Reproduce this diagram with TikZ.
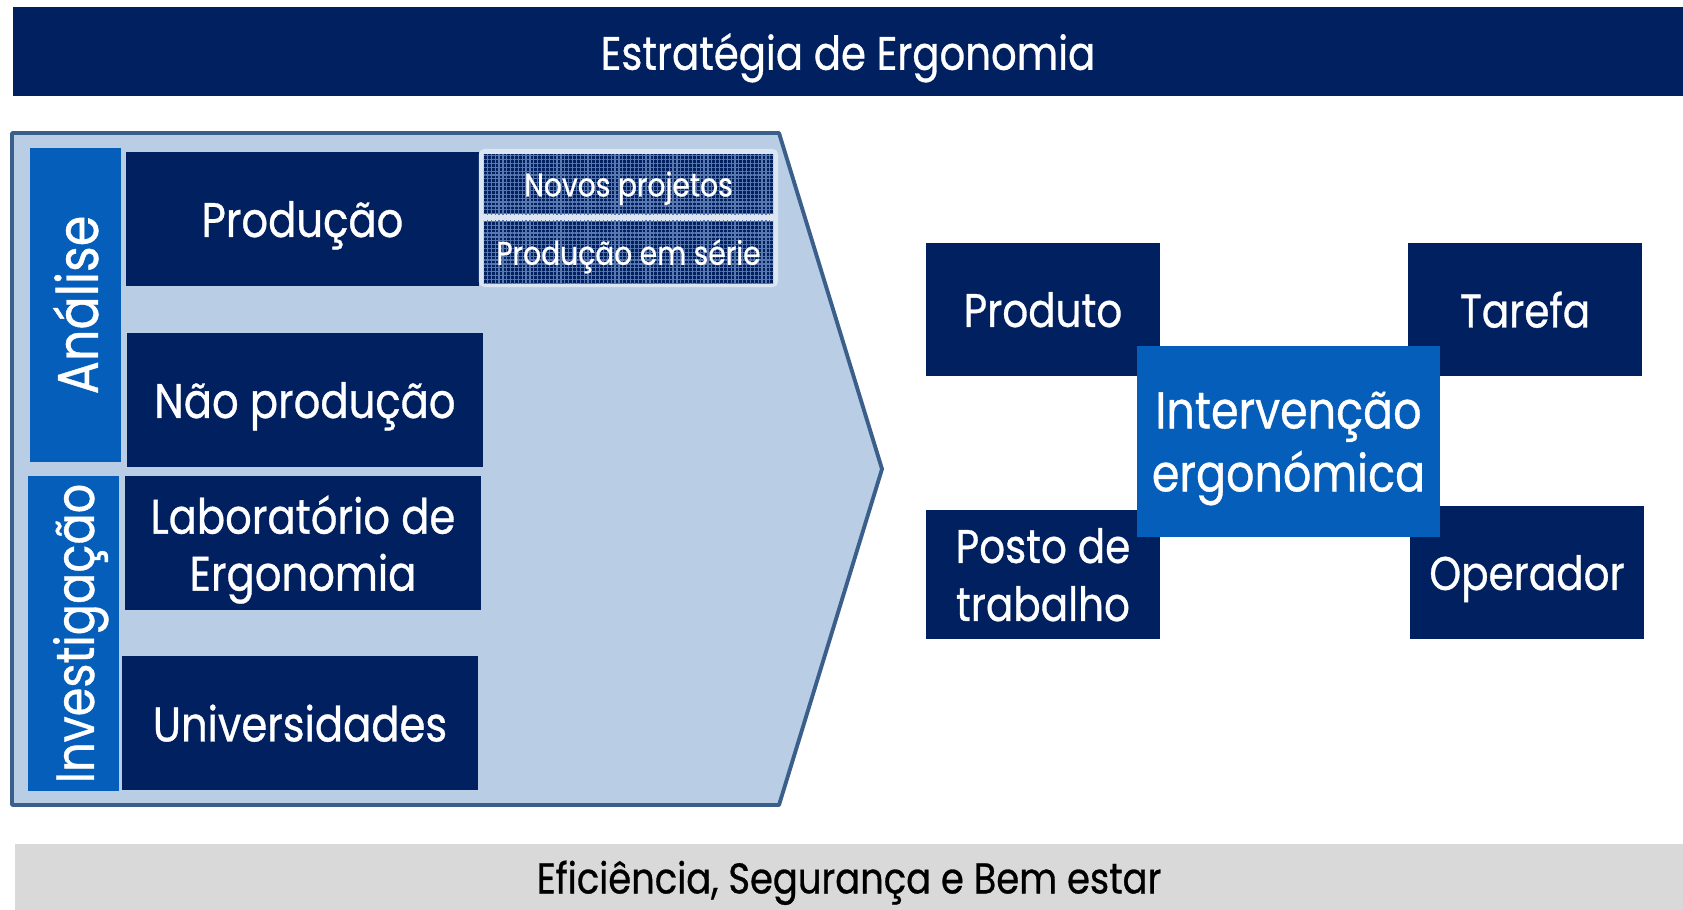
\documentclass[tikz,border=0pt]{standalone}
\usepackage{fontspec}
\setmainfont{Poppins}[FakeStretch=0.86, FakeBold=0.7]
\usetikzlibrary{positioning,patterns.meta}
\definecolor{navy}{HTML}{002060}
\definecolor{midblue}{HTML}{055EB9}
\definecolor{paleblue}{HTML}{B9CDE5}
\definecolor{edgeblue}{HTML}{3A5F8B}
\definecolor{frameblue}{HTML}{DCE6F2}
\definecolor{gridblue}{HTML}{5A78B0}
\definecolor{bargray}{HTML}{D9D9D9}
\tikzset{
    basic/.style     = {rectangle, inner sep=0pt, align=center, text depth=0pt},
    banner/.style    = {basic, fill=navy, text=white, minimum width=16.70cm, minimum height=0.88cm},
    footer/.style    = {basic, fill=bargray, text=black, minimum width=16.68cm, minimum height=0.66cm},
    side bar/.style  = {basic, fill=midblue, text=white, rotate=90, minimum height=0.91cm},
    dark box/.style  = {basic, fill=navy, text=white, minimum width=3.56cm, minimum height=1.34cm,
                        font=\fontsize{13.8}{16.2}\selectfont},
    hatch box/.style = {basic, fill=navy, text=white, minimum width=2.89cm,
                        font=\fontsize{9.3}{11}\selectfont,
                        postaction={pattern={Lines[angle=0,distance=1.1pt,line width=0.35pt]}, pattern color=gridblue},
                        postaction={pattern={Lines[angle=90,distance=1.1pt,line width=0.35pt]}, pattern color=gridblue}},
    item box/.style  = {basic, fill=navy, text=white, minimum width=2.34cm, minimum height=1.33cm,
                        font=\fontsize{13.4}{16.5}\selectfont},
    core box/.style  = {basic, fill=midblue, text=white, minimum width=3.03cm, minimum height=1.91cm,
                        font=\fontsize{14.7}{17.9}\selectfont}
}

\begin{document}
\begin{tikzpicture}[x=0.01cm, y=-0.01cm]
	\useasboundingbox (0,0) rectangle (1683,910);

	% banners
	\node[banner, font=\fontsize{13.3}{15}\selectfont] (title) at (848,51.5) {Estratégia de Ergonomia};
	\node[footer, font=\fontsize{12.2}{14}\selectfont] (goal) at (849,877) {Eficiência, Segurança e Bem estar};

	% arrow shape on the left
	\draw[edgeblue, line width=1.1pt, fill=paleblue, line join=round]
		(12,133) -- (779,133) -- (882,469) -- (779,805) -- (12,805) -- cycle;

	\node[side bar, minimum width=3.14cm, font=\fontsize{16.3}{18}\selectfont] (analise) at (75.5,305) {Análise};
	\node[side bar, minimum width=3.15cm, font=\fontsize{15.3}{18}\selectfont] (invest) at (73.5,633.5) {Investigação};

	\node[dark box, minimum width=3.53cm] (prod) at (302.5,219) {Produção};
	\node[dark box] (naoprod) at (305,400) {Não produção};
	\node[dark box] (lab) at (303,543) {Laboratório de\\Ergonomia};
	\node[dark box] (univ) at (300,723) {Universidades};

	\node[basic, fill=frameblue, rounded corners=1.5pt, minimum width=2.99cm, minimum height=1.38cm] (subframe) at (628.5,218) {};
	\node[hatch box, minimum height=0.60cm] (novos) at (628.5,184) {Novos projetos};
	\node[hatch box, minimum height=0.62cm] (serie) at (628.5,252) {Produção em série};

	% intervention cluster
	\begin{scope}[every node/.style={item box}]
		\node (produto) at (1043,309.5) {Produto};
		\node (tarefa) at (1525,309.5) {Tarefa};
		\node[minimum height=1.29cm] (posto) at (1043,574.5) {Posto de\\trabalho};
		\node (operador) at (1527,572.5) {Operador};
	\end{scope}
	\node[core box] (interv) at (1288.5,441.5) {Intervenção\\ergonómica};
\end{tikzpicture}
\end{document}
